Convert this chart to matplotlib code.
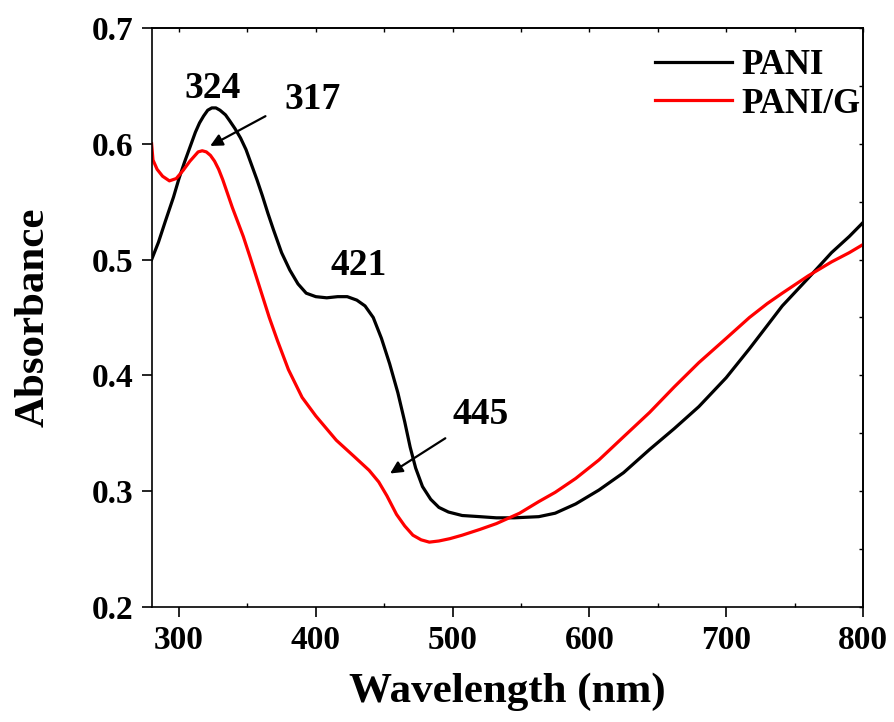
import matplotlib
matplotlib.use("Agg")
import matplotlib.pyplot as plt
from matplotlib.ticker import MultipleLocator

plt.rcParams['font.family'] = ['Liberation Serif', 'DejaVu Serif']
plt.rcParams['font.weight'] = 'bold'

# PANI (black)
pani_x = [280, 285, 290, 296, 300, 304, 308, 312, 315, 318, 321, 324, 327, 330, 334, 337, 341,
          345, 349, 353, 357, 361, 365, 369, 375, 381,
          387, 393, 400, 408, 416, 423, 430, 436, 442, 448, 454, 460, 465, 469, 473, 478, 484,
          490, 497, 507, 520, 532, 545, 563, 575, 590, 607, 625, 644, 662, 680, 700, 717, 730,
          741, 760, 777, 790, 800]
pani_y = [0.500, 0.515, 0.533, 0.554, 0.570, 0.584, 0.597, 0.610, 0.618, 0.624, 0.629, 0.631,
          0.631, 0.629, 0.625, 0.620, 0.613, 0.605, 0.595, 0.582, 0.569, 0.555, 0.540, 0.526,
          0.506, 0.491, 0.479, 0.471, 0.468, 0.467, 0.468, 0.468, 0.465,
          0.460, 0.450, 0.432, 0.410, 0.385, 0.360, 0.338, 0.320, 0.304, 0.293, 0.286, 0.282,
          0.279, 0.278, 0.277, 0.277, 0.278, 0.281, 0.289, 0.301, 0.316, 0.336, 0.354, 0.373,
          0.398, 0.423, 0.443, 0.460, 0.484, 0.506, 0.520, 0.532]

# PANI/G (red)
pg_x = [280, 281, 284, 288, 293, 298, 303, 308, 311, 314, 317, 320, 323, 326, 329, 332, 339,
        347, 352, 359, 366, 372, 380, 390, 400, 415, 428, 439, 446, 452, 459, 465, 471, 477,
        483, 490, 498, 507, 520, 532, 549, 563, 575, 590, 607, 625, 644, 662, 680, 700, 717,
        730, 741, 760, 777, 790, 800]
pg_y = [0.600, 0.586, 0.578, 0.572, 0.568, 0.570, 0.577, 0.585, 0.589, 0.593, 0.594, 0.593,
        0.590, 0.585, 0.578, 0.569, 0.545, 0.520, 0.502, 0.476, 0.450, 0.430, 0.405, 0.381,
        0.365, 0.344, 0.330, 0.318, 0.308, 0.296, 0.280, 0.270, 0.262, 0.258, 0.256, 0.257,
        0.259, 0.262, 0.267, 0.272, 0.281, 0.291, 0.299, 0.311, 0.327, 0.347, 0.368, 0.390,
        0.411, 0.432, 0.450, 0.462, 0.471, 0.486, 0.498, 0.506, 0.513]

x_ticks = [300, 400, 500, 600, 700, 800]
y_ticks = [0.2, 0.3, 0.4, 0.5, 0.6, 0.7]

fig = plt.figure(figsize=(8.94, 7.22), dpi=100)
ax = fig.add_axes([0.1696, 0.1593, 0.7957, 0.8019])

ax.plot(pani_x, pani_y, color='black', lw=2.3, label='PANI')
ax.plot(pg_x, pg_y, color='#ff0000', lw=2.3, label='PANI/G')

ax.set_xlim(280, 800)
ax.set_ylim(0.2, 0.7)
ax.set_xticks(x_ticks)
ax.set_yticks(y_ticks)
ax.set_yticklabels([f"{v:.1f}" for v in y_ticks])
ax.xaxis.set_minor_locator(MultipleLocator(50))

for s in ax.spines.values():
    s.set_linewidth(1.2)

ax.tick_params(axis='both', which='major', direction='out', length=7, width=1.2,
               labelsize=24, pad=6)
ax.tick_params(axis='x', which='minor', direction='in', length=3, width=1.0)
for lab in ax.get_xticklabels() + ax.get_yticklabels():
    lab.set_fontweight('bold')

# right/top inward ticks
axr = ax.secondary_yaxis('right')
axr.set_yticks([0.2 + 0.05 * i for i in range(11)])
axr.tick_params(direction='in', length=3, width=1.0, labelright=False)
axr.spines['right'].set_linewidth(1.2)
axt = ax.secondary_xaxis('top')
axt.set_xticks(list(range(300, 801, 50)))
axt.tick_params(direction='in', length=3, width=1.0, labeltop=False)
axt.spines['top'].set_linewidth(1.2)

ax.set_xlabel('Wavelength (nm)', fontsize=31, fontweight='bold', labelpad=12)
ax.set_ylabel('Absorbance', fontsize=31, fontweight='bold', labelpad=28)

ann_kw = dict(fontsize=27, fontweight='bold', ha='center', va='center')
ax.text(324.8, 0.648, '324', **ann_kw)
ax.text(431.4, 0.495, '421', **ann_kw)
ax.annotate('', xy=(321, 0.597), xytext=(365, 0.625),
            arrowprops=dict(arrowstyle='-|>', color='black', lw=1.6, mutation_scale=18))
ax.text(397.8, 0.638, '317', **ann_kw)
ax.annotate('', xy=(452.6, 0.314), xytext=(496.4, 0.347),
            arrowprops=dict(arrowstyle='-|>', color='black', lw=1.6, mutation_scale=18))
ax.text(520.4, 0.366, '445', **ann_kw)

leg = ax.legend(loc='upper right', bbox_to_anchor=(1.031, 1.005), frameon=False,
                handlelength=2.2, handletextpad=0.28, labelspacing=0.15,
                borderaxespad=0.3, prop={'weight': 'bold', 'size': 25})

fig.savefig('out.png', dpi=100)
